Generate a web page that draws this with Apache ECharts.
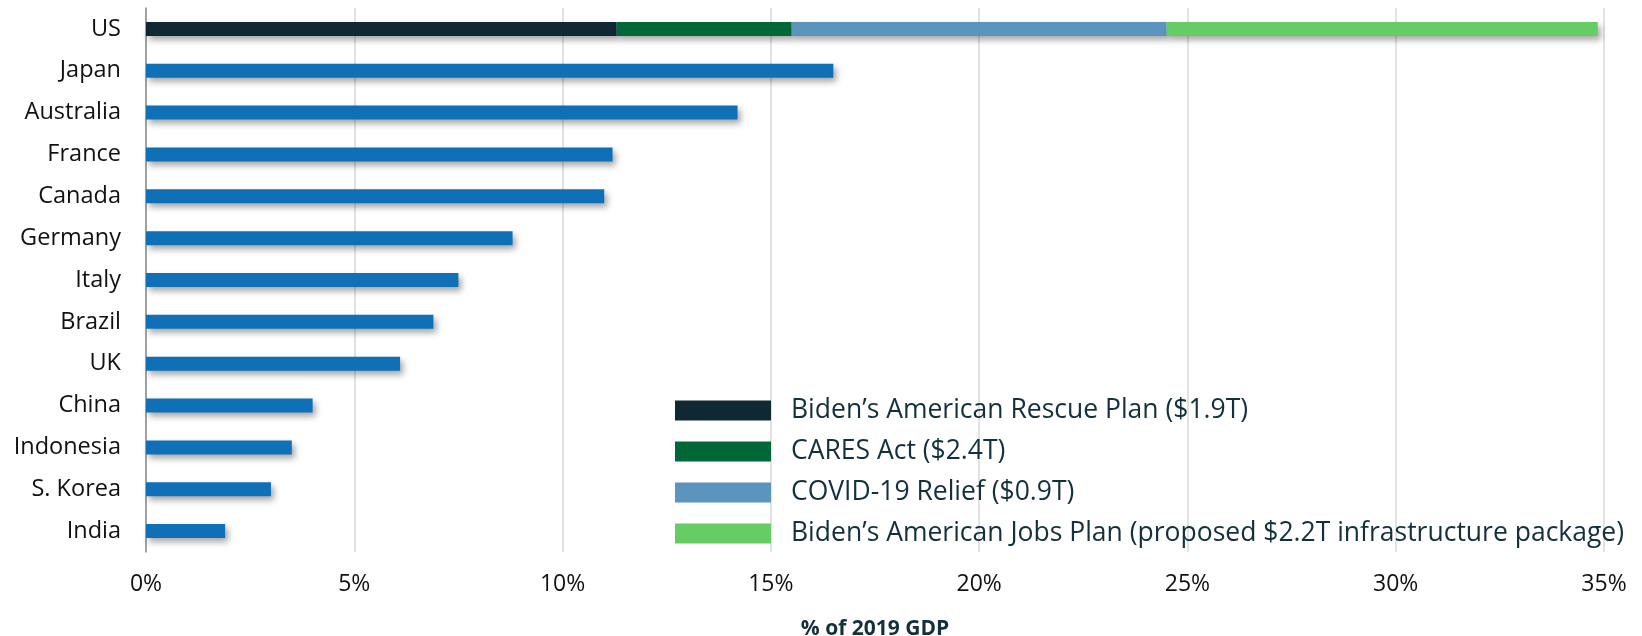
<!DOCTYPE html>
<html lang="en">
<head>
  <meta charset="UTF-8">
  <title>Fiscal stimulus as % of 2019 GDP</title>
  <style>
    html, body { margin: 0; padding: 0; background: #fff; }
    #chart { width: 1642px; height: 636px; }
  </style>
  <script src="https://cdn.jsdelivr.net/npm/echarts@6/dist/echarts.min.js"></script>
</head>
<body>
  <div id="chart"></div>
  <script>
    // categories, top to bottom
    var countries = ['US', 'Japan', 'Australia', 'France', 'Canada', 'Germany', 'Italy',
      'Brazil', 'UK', 'China', 'Indonesia', 'S. Korea', 'India'];
    // other countries (US is stacked separately)
    var otherValues = ['-', 16.5, 14.2, 11.2, 11.0, 8.8, 7.5, 6.9, 6.1, 4.0, 3.5, 3.0, 1.9];
    // US stack segments
    var usNames = ["Biden\u2019s American Rescue Plan ($1.9T)", 'CARES Act ($2.4T)',
      'COVID-19 Relief ($0.9T)', "Biden\u2019s American Jobs Plan (proposed $2.2T infrastructure package)"];
    var usValues = [11.3, 4.2, 9.0, 10.35];
    var usColors = ['#0f2833', '#006837', '#5b95bd', '#66cc66'];
    var xTicks = [0, 35, 5];

    var font = '"Open Sans", sans-serif';
    var shadow = {
      shadowBlur: 6,
      shadowOffsetX: 3,
      shadowOffsetY: 4,
      shadowColor: 'rgba(0,0,0,0.35)'
    };

    var myChart = echarts.init(document.getElementById('chart'));

    var series = [];
    usNames.forEach(function (name, i) {
      var data = countries.map(function (c) { return c === 'US' ? usValues[i] : '-'; });
      series.push({
        name: name,
        type: 'bar',
        stack: 'total',
        barWidth: 14,
        itemStyle: Object.assign({ color: usColors[i] }, shadow),
        data: data
      });
    });
    series.push({
      name: 'Other',
      type: 'bar',
      stack: 'total',
      barWidth: 14,
      itemStyle: Object.assign({ color: '#0f70b7' }, shadow),
      data: otherValues
    });

    var option = {
      animation: false,
      textStyle: { fontFamily: font },
      grid: { left: 146, right: 38, top: 8, bottom: 84, containLabel: false, outerBoundsMode: 'none' },
      legend: {
        data: usNames,
        orient: 'vertical',
        left: 670,
        top: 392,
        itemWidth: 96,
        itemHeight: 20,
        itemGap: 14,
        icon: 'rect',
        itemStyle: { shadowBlur: 0, shadowOffsetX: 0, shadowOffsetY: 0 },
        textStyle: { fontSize: 26.5, color: '#13303c', fontFamily: font, padding: [0, 0, 0, 15] }
      },
      xAxis: {
        type: 'value',
        min: xTicks[0],
        max: xTicks[1],
        interval: xTicks[2],
        name: '% of 2019 GDP',
        nameLocation: 'middle',
        nameGap: 67,
        nameTextStyle: { fontSize: 21, fontWeight: 'bold', color: '#13303c', fontFamily: font },
        axisLine: { show: false },
        axisTick: { show: false },
        axisLabel: { formatter: '{value}%', fontSize: 23, color: '#111', margin: 21, fontFamily: font },
        splitLine: { show: true, lineStyle: { color: '#d9d9d9', width: 1.5 } }
      },
      yAxis: {
        type: 'category',
        inverse: true,
        data: countries,
        axisLine: { show: true, lineStyle: { color: '#8c8c8c', width: 1.5 } },
        axisTick: { show: false },
        axisLabel: { fontSize: 23.5, color: '#111', margin: 25, fontFamily: font }
      },
      series: series
    };

    myChart.setOption(option);
  </script>
</body>
</html>
